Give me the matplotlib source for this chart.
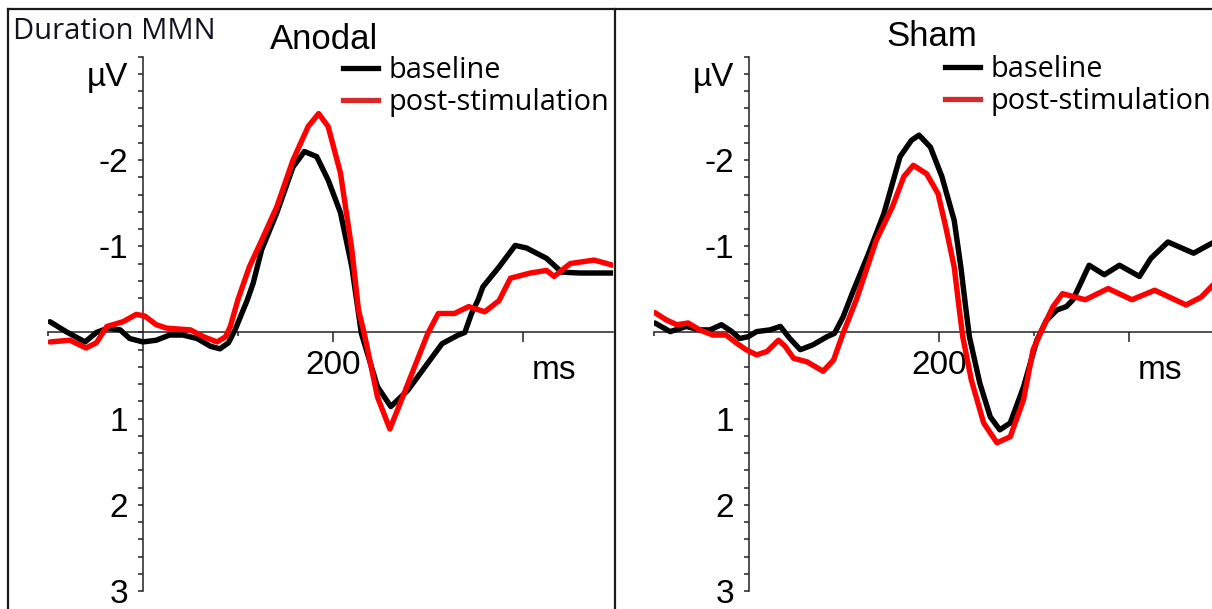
import numpy as np
import matplotlib
matplotlib.use('Agg')
import matplotlib.pyplot as plt
from matplotlib.lines import Line2D
from matplotlib.ticker import MultipleLocator, FixedLocator

# grand-average MMN waveforms, time in ms / amplitude in µV
anodal_base_t = [-98, -81, -61, -49, -37, -24, -14, 0, 14, 28, 42, 57, 71, 81, 90, 97, 110, 116, 125,
                 141, 158, 170, 183, 195, 208, 220, 230, 247, 261, 279, 297, 315, 332, 339, 346, 353,
                 358, 375, 392, 404, 425, 441, 460, 495]
anodal_base_v = [-0.125, -0.01, 0.11, 0.0, -0.05, -0.03, 0.07, 0.11, 0.09, 0.03, 0.03, 0.07, 0.16, 0.19,
                 0.12, -0.03, -0.38, -0.57, -0.96, -1.39, -1.92, -2.10, -2.04, -1.77, -1.39, -0.76, 0.01,
                 0.63, 0.86, 0.67, 0.40, 0.13, 0.03, 0.0, -0.22, -0.38, -0.53, -0.76, -1.01, -0.98,
                 -0.86, -0.70, -0.69, -0.69]

anodal_post_t = [-98, -77, -60, -49, -38, -21, -7, 2, 14, 25, 50, 64, 78, 87, 92, 100, 112, 125, 141,
                 158, 174, 185, 195, 208, 220, 227, 233, 247, 260, 272, 286, 300, 311, 328, 343, 360,
                 375, 387, 408, 425, 433, 450, 475, 495]
anodal_post_v = [0.11, 0.09, 0.18, 0.12, -0.07, -0.125, -0.21, -0.19, -0.09, -0.05, -0.03, 0.05, 0.11,
                 0.05, -0.07, -0.38, -0.76, -1.07, -1.46, -2.0, -2.39, -2.54, -2.39, -1.85, -0.96,
                 -0.26, 0.01, 0.75, 1.12, 0.79, 0.40, 0.01, -0.22, -0.22, -0.30, -0.24, -0.37, -0.63,
                 -0.69, -0.72, -0.65, -0.80, -0.84, -0.78]

sham_base_t = [-99, -83, -66, -52, -41, -29, -18, -10, -1, 8, 22, 33, 43, 54, 67, 82, 90, 99, 110, 126,
               142, 159, 171, 179, 191, 203, 216, 223, 228, 232, 243, 254, 264, 275, 289, 303, 313,
               324, 334, 341, 358, 374, 390, 411, 423, 441, 468, 488]
sham_base_v = [-0.11, -0.01, -0.07, -0.03, -0.03, -0.09, -0.01, 0.07, 0.05, -0.01, -0.03, -0.07, 0.07,
               0.20, 0.145, 0.05, 0.01, -0.18, -0.49, -0.92, -1.38, -2.04, -2.23, -2.29, -2.15, -1.81,
               -1.30, -0.76, -0.30, 0.05, 0.59, 0.98, 1.13, 1.05, 0.63, 0.09, -0.14, -0.26, -0.30,
               -0.38, -0.78, -0.67, -0.78, -0.65, -0.86, -1.05, -0.92, -1.04]

sham_post_t = [-99, -87, -76, -64, -52, -38, -24, -13, -3, 8, 19, 31, 38, 47, 61, 78, 89, 99, 113, 134,
               151, 163, 173, 187, 199, 207, 216, 221, 225, 234, 247, 261, 275, 289, 299, 310, 320,
               330, 354, 378, 403, 427, 460, 476, 490]
sham_post_v = [-0.23, -0.145, -0.09, -0.11, -0.03, 0.03, 0.03, 0.125, 0.20, 0.26, 0.22, 0.09, 0.16,
               0.30, 0.34, 0.45, 0.32, 0.01, -0.38, -1.07, -1.46, -1.81, -1.94, -1.84, -1.61, -1.23,
               -0.76, -0.30, 0.05, 0.55, 1.05, 1.28, 1.21, 0.78, 0.20, -0.07, -0.30, -0.45, -0.38,
               -0.51, -0.38, -0.49, -0.32, -0.41, -0.57]

y_ticks = [-3, -2, -1, 1, 2, 3]
y_labels = ['µV', '-2', '-1', '1', '2', '3']
x_ticks = [200, 400]
x_labels = ['200', '']
legend_labels = ['baseline', 'post-stimulation']

W, H = 1212, 609
fig = plt.figure(figsize=(W / 100, H / 100), dpi=100)


def box(x0, x1, ytop, ybot):
    # axes rectangle from pixel edges
    return [x0 / W, 1 - ybot / H, (x1 - x0) / W, (ybot - ytop) / H]


def panel(rect, xmax, base_t, base_v, post_t, post_v, leg_xy):
    ax = fig.add_axes(rect)
    ax.plot(base_t, base_v, color='black', lw=3.9, solid_capstyle='round',
            solid_joinstyle='round', zorder=3)
    ax.plot(post_t, post_v, color='#ff0000', lw=3.9, solid_capstyle='round',
            solid_joinstyle='round', zorder=4)
    ax.set_xlim(-100, xmax)
    ax.set_ylim(3, -3.2)
    for s in ['top', 'right']:
        ax.spines[s].set_visible(False)
    ax.spines['left'].set_position(('data', 0))
    ax.spines['bottom'].set_position(('data', 0))
    for s in ['left', 'bottom']:
        ax.spines[s].set_linewidth(1.1)
        ax.spines[s].set_color('#222222')
        ax.spines[s].set_zorder(2)

    ax.yaxis.set_major_locator(FixedLocator(y_ticks))
    ax.set_yticklabels(y_labels)
    ax.yaxis.set_minor_locator(MultipleLocator(0.2))
    ax.tick_params(axis='y', which='both', direction='out', length=3.8, width=1.1,
                   color='#222222', pad=7)
    ax.tick_params(axis='y', which='major', labelsize=24)

    ax.xaxis.set_major_locator(FixedLocator(x_ticks))
    ax.set_xticklabels(x_labels)
    ax.xaxis.set_minor_locator(FixedLocator([-100, 100, 300]))
    ax.tick_params(axis='x', which='major', direction='out', length=7.5, width=1.1,
                   color='#222222', pad=5, labelsize=24)
    ax.tick_params(axis='x', which='minor', direction='out', length=3, width=1.1, color='#222222')
    for lab in ax.get_xticklabels() + ax.get_yticklabels():
        lab.set_family('Liberation Sans')

    ax.annotate('ms', xy=(400, 0), xycoords='data', xytext=(31, -46.5), textcoords='offset pixels',
                ha='center', va='baseline', fontsize=24, family='Liberation Sans')

    handles = [Line2D([], [], color='black', lw=3.8), Line2D([], [], color='#d42a2a', lw=3.8)]
    ax.legend(handles, legend_labels, loc='upper left', bbox_to_anchor=leg_xy,
              bbox_transform=fig.transFigure, frameon=False, borderpad=0, borderaxespad=0,
              handlelength=1.22, handletextpad=0.34, labelspacing=0.12,
              prop={'family': 'Open Sans', 'size': 20.8})
    return ax


ax1 = panel(box(48, 613, 56.7, 591), 495, anodal_base_t, anodal_base_v,
            anodal_post_t, anodal_post_v, (343 / W, 1 - 56 / H))
ax2 = panel(box(654, 1224, 56.7, 591), 500, sham_base_t, sham_base_v,
            sham_post_t, sham_post_v, (945 / W, 1 - 55 / H))

fig.text(13 / W, 1 - 39 / H, 'Duration MMN', ha='left', va='baseline', fontsize=21,
         family='Open Sans', color='#141420')
fig.text(324 / W, 1 - 49 / H, 'Anodal', ha='center', va='baseline', fontsize=25,
         family='Liberation Sans')
fig.text(932 / W, 1 - 46 / H, 'Sham', ha='center', va='baseline', fontsize=25,
         family='Liberation Sans')

# panel frames
for xs, ys in [([8, W], [9, 9]), ([8, 8], [9, H]), ([614.5, 614.5], [9, H])]:
    fig.add_artist(Line2D([x / W for x in xs], [1 - y / H for y in ys], color='#1a1a1a',
                          lw=1.6, transform=fig.transFigure))

fig.savefig('out.png', dpi=100)
